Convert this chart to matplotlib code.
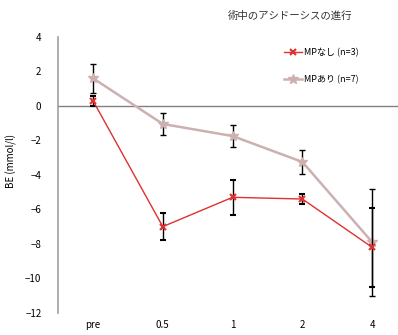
import numpy as np
import matplotlib.pyplot as plt

plt.rcParams['font.family'] = ['Noto Sans CJK JP', 'DejaVu Sans']

timepoints = ['pre', '0.5', '1', '2', '4']
mp_none = [0.3, -7.0, -5.3, -5.4, -8.2]
mp_none_err = [0.3, 0.8, 1.0, 0.3, 2.3]
mp_done = [1.6, -1.05, -1.75, -3.25, -7.9]
mp_done_err = [0.85, 0.63, 0.65, 0.68, 3.1]

x = np.arange(len(timepoints))

fig = plt.figure(figsize=(3.98, 3.35), dpi=100)
ax = fig.add_axes([0.146, 0.066, 0.854, 0.824])

ax.axhline(0, color='#808080', lw=1.0, zorder=1)

done = ax.errorbar(x, mp_done, yerr=mp_done_err, color='#cdb0b0', ecolor='black',
                   elinewidth=1.0, capsize=2.5, capthick=1.0, lw=1.8, marker='*',
                   markersize=7, zorder=3)
none = ax.errorbar(x, mp_none, yerr=mp_none_err, color='#e03030', ecolor='black',
                   elinewidth=1.0, capsize=2.5, capthick=1.0, lw=1.0, marker='x',
                   markersize=5, mew=1.5, zorder=4)

ax.set_xlim(-0.5, 4.37)
ax.set_ylim(-12, 4)
ax.set_yticks(np.arange(-12, 5, 2))
ax.set_xticks(x)
ax.set_xticklabels(timepoints)
ax.tick_params(axis='both', length=0, labelsize=7)
ax.tick_params(axis='y', pad=12)
ax.tick_params(axis='x', pad=5)
for s in ['top', 'right', 'bottom']:
    ax.spines[s].set_visible(False)
ax.spines['left'].set_color('#a0a0a0')
ax.spines['left'].set_linewidth(1.2)

ax.set_ylabel('BE (mmol/l)', fontsize=7)
ax.yaxis.set_label_coords(-0.12, 0.55)

fig.text(0.73, 0.945, '術中のアシドーシスの進行', fontsize=7.5, ha='center',
         color='#333333')

ax.legend([none[0], done[0]], ['MPなし (n=3)', 'MPあり (n=7)'],
          loc='upper left', frameon=False, fontsize=6.5,
          bbox_to_anchor=(0.64, 0.99), labelspacing=2.0,
          handlelength=2.0, handletextpad=0.2)

fig.savefig('out.png', dpi=100)
